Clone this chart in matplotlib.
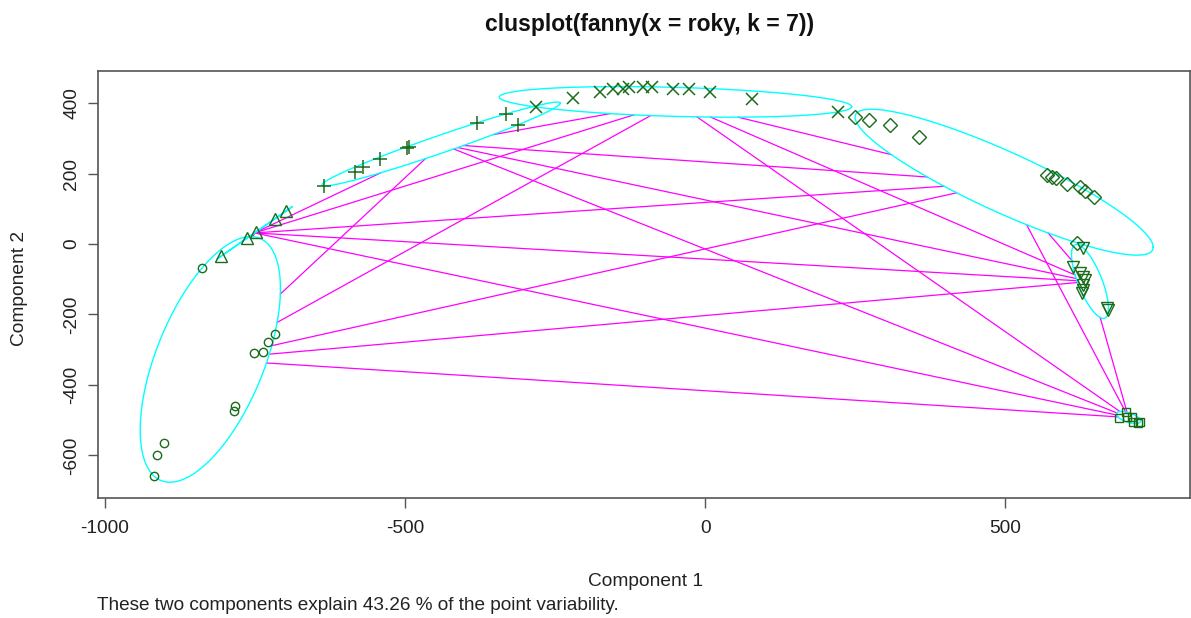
import numpy as np
import matplotlib
matplotlib.use("Agg")
import matplotlib.pyplot as plt

plt.rcParams['font.family'] = ['Liberation Sans', 'DejaVu Sans']

# ---- data: component scores per cluster ----
c1_x = [-717, -728, -737, -752, -783, -785, -902, -913, -918, -838]
c1_y = [-256, -278, -307, -310, -460, -474, -565, -599, -659, -68]
c2_x = [-806, -763, -748, -717, -698]
c2_y = [-34, 17, 34, 71, 94]
c3_x = [-635, -583, -570, -542, -497, -493, -380, -332, -312]
c3_y = [165, 205, 219, 241, 273, 276, 344, 369, 338]
c4_x = [-282, -220, -175, -153, -137, -127, -103, -88, -53, -27, 8, 78, 222]
c4_y = [389, 415, 432, 440, 440, 446, 446, 446, 440, 440, 432, 412, 375]
c5_x = [250, 273, 308, 357, 570, 578, 585, 603, 625, 633, 648, 620]
c5_y = [361, 352, 338, 304, 196, 190, 188, 170, 162, 151, 134, 3]
c6_x = [630, 613, 625, 630, 633, 630, 630, 628, 670, 672]
c6_y = [-11, -65, -82, -94, -102, -116, -131, -139, -182, -188]
c7_x = [690, 702, 703, 712, 713, 722, 725]
c7_y = [-494, -477, -491, -491, -506, -509, -506]

clusters_x = [c1_x, c2_x, c3_x, c4_x, c5_x, c6_x, c7_x]
clusters_y = [c1_y, c2_y, c3_y, c4_y, c5_y, c6_y, c7_y]
markers = ['o', '^', '+', 'x', 'D', 'v', 's']
msizes = [6, 8.5, 10, 8, 7.5, 8.5, 6]

title = "clusplot(fanny(x = roky, k = 7))"
xlabel = "Component 1"
ylabel = "Component 2"
subtitle = "These two components explain 43.26 % of the point variability."
xticks = [-1000, -500, 0, 500]
yticks = [-600, -400, -200, 0, 200, 400]


def mvee(P, tol=1e-9, maxit=20000):
    N, d = P.shape
    Q = np.vstack([P.T, np.ones(N)])
    u = np.ones(N) / N
    for _ in range(maxit):
        X = Q @ np.diag(u) @ Q.T
        M = np.einsum('ij,ji->i', Q.T @ np.linalg.inv(X), Q)
        j = np.argmax(M)
        step = (M[j] - d - 1) / ((d + 1) * (M[j] - 1))
        nu = (1 - step) * u
        nu[j] += step
        if np.linalg.norm(nu - u) < tol:
            u = nu
            break
        u = nu
    c = P.T @ u
    A = np.linalg.inv(P.T @ np.diag(u) @ P - np.outer(c, c)) / d
    r = max(((P - c) @ A * (P - c)).sum(1).max(), 1.0)
    return c, A / r


W, H = 1191, 618
fig = plt.figure(figsize=(W / 100, H / 100), dpi=100)
L, R, T, B = 98.3, 1190, 71, 498.3
ax = fig.add_axes([L / W, 1 - B / H, (R - L) / W, (B - T) / H])

ells = []
for xs, ys in zip(clusters_x, clusters_y):
    P = np.column_stack([xs, ys]).astype(float)
    ells.append(mvee(P))

# lines between ellipse boundaries
k = len(ells)
for i in range(k - 1):
    for j in range(i + 1, k):
        ci, Ai = ells[i]
        cj, Aj = ells[j]
        dvec = cj - ci
        ti = 1 / np.sqrt(dvec @ Ai @ dvec)
        tj = 1 / np.sqrt(dvec @ Aj @ dvec)
        if ti + tj < 1:
            p = ci + ti * dvec
            q = cj - tj * dvec
            ax.plot([p[0], q[0]], [p[1], q[1]], color='#FF00FF', lw=0.9, zorder=2)

t = np.linspace(0, 2 * np.pi, 400)
for c, A in ells:
    Lm = np.linalg.cholesky(np.linalg.inv(A))
    pts = c[:, None] + Lm @ np.vstack([np.cos(t), np.sin(t)])
    ax.plot(pts[0], pts[1], color='#00FFFF', lw=1.0, zorder=3)

for xs, ys, m, s in zip(clusters_x, clusters_y, markers, msizes):
    if m in ('+', 'x'):
        ax.plot(xs, ys, linestyle='none', marker=m, ms=s, mew=1.1,
                color='#1a6b1a', zorder=4)
    else:
        ax.plot(xs, ys, linestyle='none', marker=m, ms=s, mew=1.0,
                mfc='none', mec='#1a6b1a', zorder=4)

ax.set_xlim(-1011, 808)
ax.set_ylim(-722, 491)
ax.set_xticks(xticks)
ax.set_yticks(yticks)
ax.set_xticklabels([str(v) for v in xticks])
ax.set_yticklabels([str(v) for v in yticks], rotation=90, va='center')
for sp in ax.spines.values():
    sp.set_color('#555555')
    sp.set_linewidth(1.2)
ax.tick_params(direction='out', length=7.5, width=1, color='#555555',
               labelsize=13.8, labelcolor='#222222')
ax.tick_params(axis='x', pad=8)
ax.tick_params(axis='y', pad=5.5)

fig.text(650 / W, 1 - 25 / H, title, ha='center', va='center',
         fontsize=16.5, fontweight='bold', color='#111111')
fig.text(646 / W, 1 - 582 / H, xlabel, ha='center', va='center',
         fontsize=13.8, color='#222222')
fig.text(20 / W, 1 - 288 / H, ylabel, ha='center', va='center',
         fontsize=13.8, rotation=90, color='#222222')
fig.text(97 / W, 1 - 606 / H, subtitle, ha='left', va='center',
         fontsize=13.7, color='#222222')

fig.savefig('out.png', dpi=100)
